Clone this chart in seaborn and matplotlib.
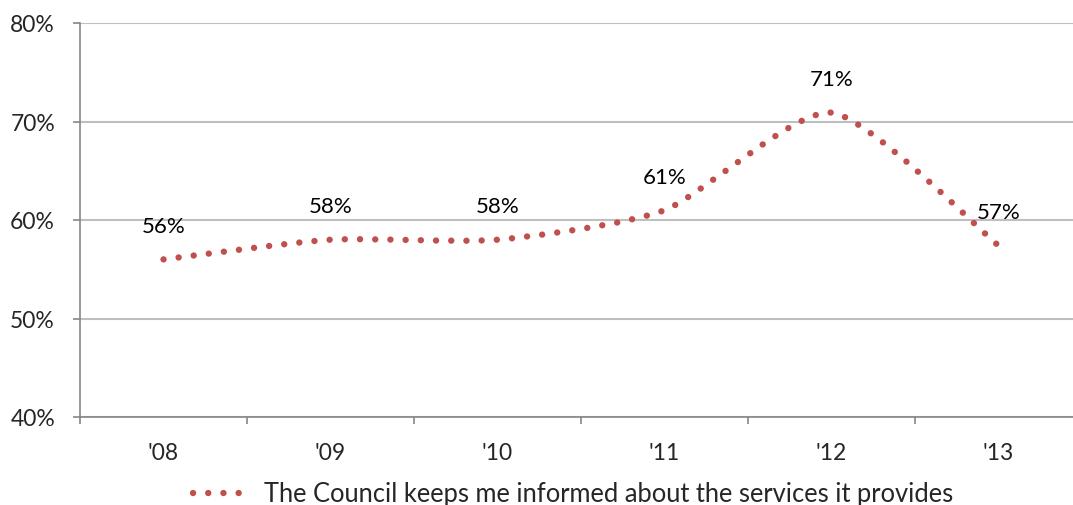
import numpy as np
import matplotlib
matplotlib.use("Agg")
import matplotlib.pyplot as plt
import seaborn as sns
from matplotlib.path import Path
from matplotlib.patches import PathPatch
from matplotlib.lines import Line2D

# ---- data ----
years = ["'08", "'09", "'10", "'11", "'12", "'13"]
values = [56.0, 58.0, 58.0, 61.0, 70.9, 57.4]
series_name = "The Council keeps me informed about the services it provides"
y_ticks = [40, 50, 60, 70, 80]

RED = "#C0504D"
GRID = "#BFBFBF"
AXIS = "#868686"

sns.set_style("white")
plt.rcParams["font.family"] = ["Lato", "DejaVu Sans"]

W, H = 1073, 506
fig = plt.figure(figsize=(W / 100, H / 100), dpi=100)
ax = fig.add_axes([80 / W, (506 - 418) / H, (1082 - 80) / W, (418 - 24) / H])

x = np.arange(len(values), dtype=float)
y = np.array(values, dtype=float)

# Smoothed (Bezier) path like a spreadsheet "smoothed line"
SMOOTH = 0.11
n = len(x)
verts = [(x[0], y[0])]
codes = [Path.MOVETO]
for i in range(n - 1):
    p0 = np.array([x[max(i - 1, 0)], y[max(i - 1, 0)]])
    p1 = np.array([x[i], y[i]])
    p2 = np.array([x[i + 1], y[i + 1]])
    p3 = np.array([x[min(i + 2, n - 1)], y[min(i + 2, n - 1)]])
    c1 = p1 + (p2 - p0) * SMOOTH
    c2 = p2 - (p3 - p1) * SMOOTH
    verts += [tuple(c1), tuple(c2), tuple(p2)]
    codes += [Path.CURVE4] * 3
lw = 4.6
dot_style = (0, (0.01, 2.37))
patch = PathPatch(Path(verts, codes), fill=False, edgecolor=RED, linewidth=lw,
                  linestyle=dot_style, capstyle="round", zorder=3)
ax.add_patch(patch)

# data labels
for xi, v in zip(x, values):
    ax.annotate(f"{v:.0f}%", (xi, v), xytext=(0, 17), textcoords="offset points",
                ha="center", va="bottom", fontsize=16, color="black", zorder=4)

ax.set_xlim(-0.5, 5.5)
ax.set_ylim(40, 80)

ax.set_yticks(y_ticks)
ax.set_yticklabels([f"{t}%" for t in y_ticks])
ax.yaxis.grid(True, color=GRID, linewidth=1.5)
ax.set_axisbelow(True)

ax.set_xticks(np.arange(-0.5, 6.0, 1.0))
ax.set_xticklabels([])
ax.set_xticks(x, minor=True)
ax.set_xticklabels(years, minor=True)
ax.tick_params(axis="x", which="major", direction="out", length=5, width=1.2, color=AXIS)
ax.tick_params(axis="x", which="minor", length=0, pad=18, labelsize=16.5)
ax.tick_params(axis="y", direction="out", length=5, width=1.2, color=AXIS, pad=13, labelsize=16.5)
ax.tick_params(left=True, bottom=True)

for s in ["top", "right"]:
    ax.spines[s].set_visible(False)
for s in ["left", "bottom"]:
    ax.spines[s].set_color(AXIS)
    ax.spines[s].set_linewidth(1.2)

handle = Line2D([], [], color=RED, linewidth=lw, linestyle=dot_style, dash_capstyle="round")
fig.legend([handle], [series_name], loc="center", bbox_to_anchor=(573 / W, 1 - 495 / H),
           frameon=False, fontsize=18.4, handlelength=2.2, handletextpad=0.6,
           borderpad=0, borderaxespad=0)

fig.savefig("out.png", dpi=100)
